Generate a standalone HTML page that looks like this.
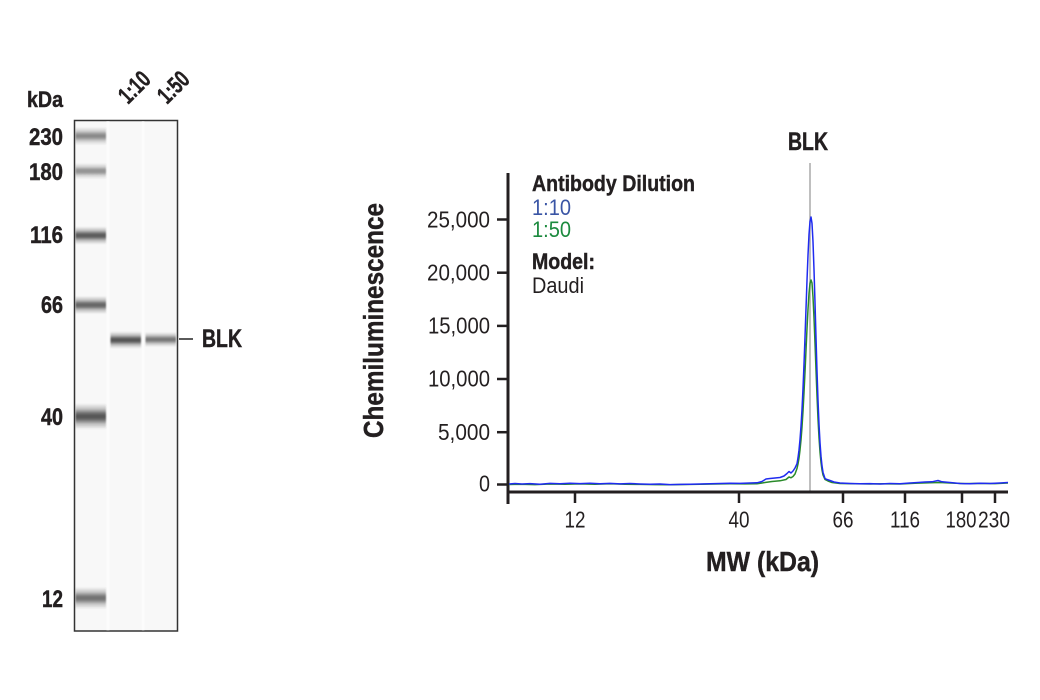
<!DOCTYPE html>
<html>
<head>
<meta charset="utf-8">
<style>
html,body{margin:0;padding:0;background:#fff;}
svg{display:block;}
text{font-family:"Liberation Sans Narrow","Liberation Sans",sans-serif;fill:#231f20;}
.b{font-weight:bold;stroke:#231f20;stroke-width:0.45;}
</style>
</head>
<body>
<svg width="1040" height="700" viewBox="0 0 1040 700" xmlns="http://www.w3.org/2000/svg">
<defs>
<linearGradient id="bg" x1="0" y1="0" x2="0" y2="1">
<stop offset="0" stop-color="#3a3a3a" stop-opacity="0"/>
<stop offset="0.22" stop-color="#3a3a3a" stop-opacity="0.35"/>
<stop offset="0.4" stop-color="#3a3a3a" stop-opacity="0.88"/>
<stop offset="0.5" stop-color="#3a3a3a" stop-opacity="1"/>
<stop offset="0.6" stop-color="#3a3a3a" stop-opacity="0.88"/>
<stop offset="0.78" stop-color="#3a3a3a" stop-opacity="0.35"/>
<stop offset="1" stop-color="#3a3a3a" stop-opacity="0"/>
</linearGradient>
<filter id="soft" x="-10%" y="-30%" width="120%" height="160%">
<feGaussianBlur stdDeviation="0.8 0.6"/>
</filter>
</defs>

<!-- Blot -->
<text class="b" x="27" y="107" font-size="22" textLength="36" lengthAdjust="spacingAndGlyphs">kDa</text>
<text class="b" x="128" y="105" font-size="24" textLength="34" lengthAdjust="spacingAndGlyphs" transform="rotate(-45 128 105)">1:10</text>
<text class="b" x="167" y="105" font-size="24" textLength="34" lengthAdjust="spacingAndGlyphs" transform="rotate(-45 167 105)">1:50</text>

<rect x="74.5" y="120.5" width="103" height="510.5" fill="#f8f8f8" stroke="#333" stroke-width="1.5"/>
<rect x="106.5" y="121.3" width="3" height="509" fill="#fcfcfc"/>
<rect x="141.8" y="121.3" width="2.6" height="509" fill="#fcfcfc"/>

<g filter="url(#soft)">
<!-- ladder bands -->
<rect x="75.5" y="127" width="30.5" height="18" fill="url(#bg)" opacity="0.6"/>
<rect x="75.5" y="163" width="30.5" height="16" fill="url(#bg)" opacity="0.55"/>
<rect x="75.5" y="226.5" width="30.5" height="18" fill="url(#bg)" opacity="0.85"/>
<rect x="75.5" y="296" width="30.5" height="18" fill="url(#bg)" opacity="0.8"/>
<rect x="75.5" y="403.5" width="30.5" height="26" fill="url(#bg)" opacity="0.88"/>
<rect x="75.5" y="587" width="30.5" height="22" fill="url(#bg)" opacity="0.72"/>
<!-- sample bands -->
<rect x="110.5" y="331.5" width="30.5" height="17" fill="url(#bg)" opacity="0.88"/>
<rect x="145.5" y="332" width="30.5" height="15" fill="url(#bg)" opacity="0.7"/>
</g>

<g font-size="24" text-anchor="end">
<text class="b" x="63" y="145" textLength="34" lengthAdjust="spacingAndGlyphs">230</text>
<text class="b" x="63" y="180" textLength="34" lengthAdjust="spacingAndGlyphs">180</text>
<text class="b" x="63" y="243" textLength="33" lengthAdjust="spacingAndGlyphs">116</text>
<text class="b" x="63" y="313" textLength="22" lengthAdjust="spacingAndGlyphs">66</text>
<text class="b" x="63" y="425" textLength="22" lengthAdjust="spacingAndGlyphs">40</text>
<text class="b" x="63" y="607" textLength="21" lengthAdjust="spacingAndGlyphs">12</text>
</g>
<line x1="179" y1="339" x2="193" y2="339" stroke="#222" stroke-width="1.5"/>
<text class="b" x="202" y="347" font-size="25" textLength="40" lengthAdjust="spacingAndGlyphs">BLK</text>

<!-- Chart -->
<text class="b" x="788" y="150" font-size="25" textLength="40" lengthAdjust="spacingAndGlyphs">BLK</text>
<line x1="810" y1="163" x2="810" y2="491" stroke="#aaa" stroke-width="1.5"/>

<text class="b" x="383" y="320.5" font-size="28" text-anchor="middle" textLength="235" lengthAdjust="spacingAndGlyphs" transform="rotate(-90 383 320.5)">Chemiluminescence</text>

<g font-size="23.5" text-anchor="end">
<text x="490" y="227.5" textLength="63" lengthAdjust="spacingAndGlyphs">25,000</text>
<text x="490" y="280.5" textLength="63" lengthAdjust="spacingAndGlyphs">20,000</text>
<text x="490" y="333.5" textLength="62" lengthAdjust="spacingAndGlyphs">15,000</text>
<text x="490" y="386.5" textLength="62" lengthAdjust="spacingAndGlyphs">10,000</text>
<text x="490" y="440" textLength="52" lengthAdjust="spacingAndGlyphs">5,000</text>
<text x="490" y="491.5" textLength="11" lengthAdjust="spacingAndGlyphs">0</text>
</g>

<g stroke="#231f20" stroke-width="2.5">
<line x1="497" y1="219.5" x2="507" y2="219.5"/>
<line x1="497" y1="272.7" x2="507" y2="272.7"/>
<line x1="497" y1="325.9" x2="507" y2="325.9"/>
<line x1="497" y1="379" x2="507" y2="379"/>
<line x1="497" y1="432.2" x2="507" y2="432.2"/>
<line x1="497" y1="484.5" x2="507" y2="484.5"/>
<line x1="575" y1="492" x2="575" y2="503"/>
<line x1="739" y1="492" x2="739" y2="503"/>
<line x1="843" y1="492" x2="843" y2="503"/>
<line x1="905" y1="492" x2="905" y2="503"/>
<line x1="962" y1="492" x2="962" y2="503"/>
<line x1="995" y1="492" x2="995" y2="503"/>
</g>
<line x1="508" y1="173" x2="508" y2="504" stroke="#231f20" stroke-width="3"/>
<line x1="506.5" y1="492" x2="1008" y2="492" stroke="#231f20" stroke-width="3"/>

<g font-size="23.5" text-anchor="middle">
<text x="575" y="527.5" textLength="21" lengthAdjust="spacingAndGlyphs">12</text>
<text x="739" y="527.5" textLength="21" lengthAdjust="spacingAndGlyphs">40</text>
<text x="843" y="527.5" textLength="21" lengthAdjust="spacingAndGlyphs">66</text>
<text x="905" y="527.5" textLength="30" lengthAdjust="spacingAndGlyphs">116</text>
<text x="961" y="527.5" textLength="31" lengthAdjust="spacingAndGlyphs">180</text>
<text x="994" y="527.5" textLength="32" lengthAdjust="spacingAndGlyphs">230</text>
</g>
<text class="b" x="706" y="571" font-size="28" textLength="113" lengthAdjust="spacingAndGlyphs">MW (kDa)</text>

<!-- Legend -->
<text class="b" x="532" y="191" font-size="22.5" textLength="163" lengthAdjust="spacingAndGlyphs">Antibody Dilution</text>
<text x="532" y="215" font-size="22.5" textLength="39" lengthAdjust="spacingAndGlyphs" style="fill:#3a55a5">1:10</text>
<text x="532" y="237" font-size="22.5" textLength="39" lengthAdjust="spacingAndGlyphs" style="fill:#1b8a3e">1:50</text>
<text class="b" x="532" y="269" font-size="22.5" textLength="63" lengthAdjust="spacingAndGlyphs">Model:</text>
<text x="532" y="293" font-size="22.5" textLength="52" lengthAdjust="spacingAndGlyphs">Daudi</text>

<!-- Series -->
<path fill="none" stroke="#2a8a2a" stroke-width="1.5" stroke-linejoin="round" d="M509,484.5 L520,484.3 L535,484.6 L550,484 L565,484.3 L580,483.9 L595,484.2 L610,483.8 L625,484.3 L640,484.4 L655,484.6 L670,484.8 L685,484.5 L700,484.3 L715,484 L730,483.8 L745,483.9 L757,483.8 L765,482.5 L772,481.5 L780,480.8 L786,479.5 L789,477 L791,477.8 L793,476.5 L795,474 L797,468.5 L798,464 L799,458.1 L800,450.1 L801,439.9 L802,427.1 L803,411.2 L804,392.6 L805,372 L806,350 L807,328.6 L808,309.2 L809,293.5 L810,283.5 L811,280 L812,283 L813,297 L814,318 L815,343 L816,370 L817,396 L818,419 L819,437.5 L820,452 L821,462.5 L822,470 L823,475 L825,479.5 L828,481 L832,482.5 L840,483.5 L855,483.8 L870,484 L885,483.8 L900,484 L915,483.3 L930,482.8 L940,482.5 L950,483 L965,483.6 L980,483.4 L995,483.6 L1008,483"/>
<path fill="none" stroke="#1f2bf0" stroke-width="1.5" stroke-linejoin="round" d="M509,484 L515,483.5 L522,484 L530,483.6 L540,484.2 L550,483.4 L560,483.8 L570,483.2 L580,483.6 L590,483.3 L600,483.8 L610,483.4 L620,483.9 L630,483.5 L640,484 L650,484.3 L660,484 L670,484.6 L680,484.4 L690,484.2 L700,484 L710,483.7 L720,483.5 L730,483.2 L740,483.4 L750,483 L757,482.8 L762,481.5 L766,479 L770,478.5 L775,478 L780,477.5 L784,476 L787,473.5 L789,471.5 L791,473 L793,471 L795,468 L797,463.7 L798,457.8 L799,450.1 L800,439.7 L801,426.3 L802,409.5 L803,388.7 L804,364.4 L805,337.4 L806,308.6 L807,280.5 L808,255.2 L809,234.6 L810,221.5 L811,217 L812,223.4 L813,241.8 L814,269.6 L815,302.7 L816,337.7 L817,371.1 L818,400.2 L819,424.2 L820,442.6 L821,456.2 L822,465.8 L823,472.3 L825,478.5 L827,479.5 L830,480.5 L834,482 L840,483 L850,483.5 L860,483.8 L870,483.6 L880,484 L890,483.5 L900,483.8 L910,483 L918,482.5 L925,482 L932,481.8 L938,480.5 L942,481.8 L950,482.5 L960,483.5 L970,483.8 L980,483.2 L990,483.5 L1000,483 L1008,482.5"/>
</svg>
</body>
</html>
